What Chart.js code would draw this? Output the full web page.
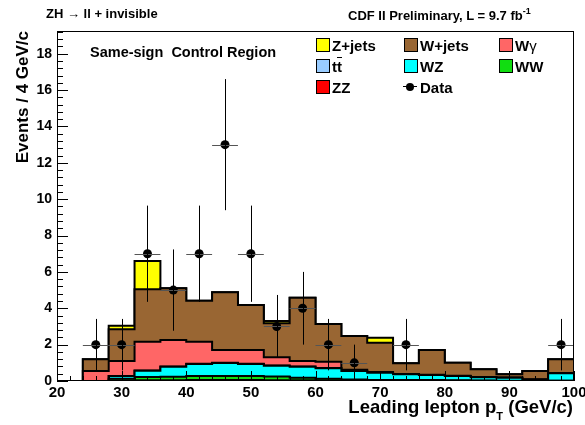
<!DOCTYPE html>
<html>
<head>
<meta charset="utf-8">
<script src="https://cdn.jsdelivr.net/npm/chart.js@4.4.1/dist/chart.umd.min.js"></script>
<style>
  body { margin: 0; background: #fff; }
  #wrap { position: relative; width: 585px; height: 425px; font-family: "Liberation Sans", Arial, sans-serif; font-weight: bold; color: #000; }
  #wrap canvas { position: absolute; left: 0; top: 0; }
  .txt { position: absolute; line-height: 1; white-space: nowrap; }
  .box { position: absolute; width: 12px; height: 12px; border: 1px solid #000; }
  .leg { font-size: 15px; }
  sup { font-size: 9px; vertical-align: 6px; }
  sub { font-size: 11px; vertical-align: -7px; }
</style>
</head>
<body>
<div id="wrap">
  <canvas id="myChart" width="585" height="425"></canvas>

  <div class="txt" style="left:46px;top:7px;font-size:13px;">ZH &rarr; ll + invisible</div>
  <div class="txt" style="left:348px;top:7px;font-size:13px;">CDF II Preliminary, L = 9.7 fb<sup>-1</sup></div>
  <div class="txt" style="left:90px;top:45px;font-size:14.5px;">Same-sign&nbsp; Control Region</div>

  <!-- legend -->
  <div class="box" style="left:316px;top:38px;background:#ffff00;"></div>
  <div class="txt leg" style="left:332px;top:38px;">Z+jets</div>
  <div class="box" style="left:404px;top:38px;background:#996633;"></div>
  <div class="txt leg" style="left:420px;top:38px;">W+jets</div>
  <div class="box" style="left:499px;top:38px;background:#ff6666;"></div>
  <div class="txt leg" style="left:515px;top:38px;">W<span style="font-weight:normal">&gamma;</span></div>

  <div class="box" style="left:316px;top:59px;background:#99ccff;"></div>
  <div class="txt leg" style="left:332px;top:59px;">t<span style="text-decoration:overline">t</span></div>
  <div class="box" style="left:404px;top:59px;background:#00ffff;"></div>
  <div class="txt leg" style="left:420px;top:59px;">WZ</div>
  <div class="box" style="left:499px;top:59px;background:#11dd11;"></div>
  <div class="txt leg" style="left:515px;top:59px;">WW</div>

  <div class="box" style="left:316px;top:80px;background:#ff0000;"></div>
  <div class="txt leg" style="left:332px;top:80px;">ZZ</div>
  <div style="position:absolute;left:403px;top:86px;width:14px;height:1px;background:#000;"></div>
  <div style="position:absolute;left:406px;top:83px;width:8px;height:8px;border-radius:50%;background:#000;"></div>
  <div class="txt leg" style="left:420px;top:80px;">Data</div>

  <div class="txt" style="right:12px;top:398px;font-size:18.5px;">Leading lepton p<sub>T</sub> (GeV/c)</div>
</div>

<script>
// lower edges of the 4 GeV/c bins
const binLow = [24, 28, 32, 36, 40, 44, 48, 52, 56, 60, 64, 68, 72, 76, 80, 84, 88, 92, 96];
const binWidth = 4;

// expected events per bin, one array per process (stacked bottom to top)
const zz     = [0, 0.03, 0.04, 0.04, 0.05, 0.05, 0.05, 0.04, 0.04, 0.03, 0.03, 0.02, 0.02, 0.01, 0.01, 0.01, 0, 0, 0.01];
const ww     = [0, 0.09, 0.18, 0.20, 0.23, 0.23, 0.23, 0.21, 0.14, 0.09, 0.05, 0.04, 0.03, 0.04, 0.03, 0.02, 0.02, 0.01, 0.01];
const wz     = [0, 0.15, 0.35, 0.55, 0.66, 0.71, 0.66, 0.59, 0.61, 0.58, 0.47, 0.40, 0.32, 0.28, 0.24, 0.17, 0.16, 0.07, 0.40];
const ttbar  = [0, 0, 0.01, 0.01, 0.01, 0.01, 0.01, 0.01, 0.01, 0.01, 0.01, 0, 0, 0, 0, 0, 0, 0, 0];
const wgamma = [0.55, 0.83, 1.58, 1.46, 1.21, 0.71, 0.76, 0.45, 0.30, 0.35, 0.06, 0.04, 0.01, 0.01, 0.01, 0, 0.01, 0, 0];
const wjets  = [0.64, 1.75, 2.89, 2.84, 2.26, 3.17, 2.47, 1.88, 3.48, 2.08, 1.86, 1.61, 0.59, 1.37, 0.72, 0.44, 0.18, 0.47, 0.77];
const zjets  = [0, 0.19, 1.55, 0, 0, 0, 0, 0.12, 0, 0, 0, 0.27, 0, 0, 0, 0, 0, 0, 0];

// observed events (bin centre, count)
const dataX = [26, 30, 34, 38, 42, 46, 50, 54, 58, 62, 66, 74, 98];
const dataN = [2, 2, 7, 5, 7, 13, 7, 3, 4, 2, 1, 2, 2];

const FONT = '"Liberation Sans", Arial, sans-serif';

const processes = [
    { label: 'ZZ',     values: zz,     color: '#ff0000' },
    { label: 'WW',     values: ww,     color: '#11dd11' },
    { label: 'WZ',     values: wz,     color: '#00ffff' },
    { label: 'ttbar',  values: ttbar,  color: '#99ccff' },
    { label: 'Wgamma', values: wgamma, color: '#ff6666' },
    { label: 'W+jets', values: wjets,  color: '#996633' },
    { label: 'Z+jets', values: zjets,  color: '#ffff00' }
];

// each stacked layer is drawn as a filled step outline of the cumulative sum,
// like a THStack: biggest first, smaller ones painted over it
const running = binLow.map(() => 0);
const histSets = processes.map(p => {
    p.values.forEach((v, i) => { running[i] += v; });
    const pts = [{ x: binLow[0], y: 0 }];
    binLow.forEach((lo, i) => pts.push({ x: lo, y: running[i] }));
    const last = binLow.length - 1;
    pts.push({ x: binLow[last] + binWidth, y: running[last] });
    pts.push({ x: binLow[last] + binWidth, y: 0 });
    return {
        label: p.label,
        data: pts,
        stepped: 'before',
        borderColor: '#000',
        borderWidth: 2,
        backgroundColor: p.color,
        fill: 'origin',
        pointRadius: 0
    };
});

const dataSet = {
    label: 'Data',
    data: dataX.map((x, i) => ({ x, y: dataN[i] })),
    showLine: false,
    pointRadius: 4.5,
    pointBackgroundColor: '#000',
    pointBorderColor: '#000',
    borderWidth: 0
};

// frame, inward ticks and the sqrt(N) error bars on the data
const decorations = {
    id: 'decorations',
    afterDatasetsDraw(chart) {
        const { ctx, chartArea: a, scales: { x, y } } = chart;
        ctx.save();

        // error bars
        dataX.forEach((xc, i) => {
            const n = dataN[i];
            const err = Math.sqrt(n);
            const py = y.getPixelForValue(n);
            ctx.strokeStyle = '#555';
            ctx.lineWidth = 1;
            ctx.beginPath();
            ctx.moveTo(x.getPixelForValue(xc - binWidth / 2), Math.round(py) + 0.5);
            ctx.lineTo(x.getPixelForValue(xc + binWidth / 2), Math.round(py) + 0.5);
            ctx.stroke();
            const px = Math.round(x.getPixelForValue(xc)) + 0.5;
            ctx.strokeStyle = '#000';
            ctx.beginPath();
            ctx.moveTo(px, y.getPixelForValue(n - err));
            ctx.lineTo(px, y.getPixelForValue(n + err));
            ctx.stroke();
        });

        ctx.strokeStyle = '#000';
        ctx.lineWidth = 1;
        ctx.strokeRect(a.left + 0.5, a.top + 0.5, a.width - 1, a.height - 1);

        ctx.beginPath();
        for (let i = 0; i <= 40; i++) {
            const v = 20 + i * 2;
            const px = Math.round(x.getPixelForValue(v)) + 0.5;
            const len = i % 5 === 0 ? 10 : 5;
            ctx.moveTo(px, a.bottom);
            ctx.lineTo(px, a.bottom - len);
        }
        for (let i = 0; i <= 48; i++) {
            const v = i * 0.4;
            const py = Math.round(y.getPixelForValue(v)) + 0.5;
            const len = i % 5 === 0 ? 11 : 6;
            ctx.moveTo(a.left, py);
            ctx.lineTo(a.left + len, py);
        }
        ctx.stroke();
        ctx.restore();
    }
};

const config = {
    type: 'line',
    data: { datasets: [dataSet, ...histSets] },
    options: {
        responsive: false,
        animation: false,
        events: [],
        layout: { padding: { top: 31, right: 11, left: 0, bottom: 0 } },
        plugins: {
            legend: { display: false },
            tooltip: { enabled: false }
        },
        scales: {
            x: {
                type: 'linear',
                min: 20,
                max: 100,
                grid: { display: false, drawTicks: false },
                border: { display: false },
                ticks: {
                    stepSize: 10,
                    maxRotation: 0,
                    padding: 3,
                    color: '#000',
                    font: { family: FONT, size: 15, weight: 'bold' }
                },
                afterFit(s) {
                    s.height = 44;
                    s.paddingLeft = 0;
                    s.paddingRight = 0;
                }
            },
            y: {
                type: 'linear',
                min: 0,
                max: 19.25,
                grid: { display: false, drawTicks: false },
                border: { display: false },
                ticks: {
                    stepSize: 2,
                    padding: 5,
                    color: '#000',
                    font: { family: FONT, size: 14, weight: 'bold' }
                },
                afterBuildTicks(s) {
                    s.ticks = s.ticks.filter(t => t.value % 2 === 0);
                },
                title: {
                    display: true,
                    text: 'Events / 4 GeV/c',
                    align: 'end',
                    color: '#000',
                    padding: { top: 13, bottom: 0 },
                    font: { family: FONT, size: 17, weight: 'bold' }
                },
                afterFit(s) {
                    s.width = 57;
                    s.paddingTop = 0;
                    s.paddingBottom = 0;
                }
            }
        }
    },
    plugins: [decorations]
};

const graphe = new Chart(document.getElementById('myChart'), config);
</script>
</body>
</html>
